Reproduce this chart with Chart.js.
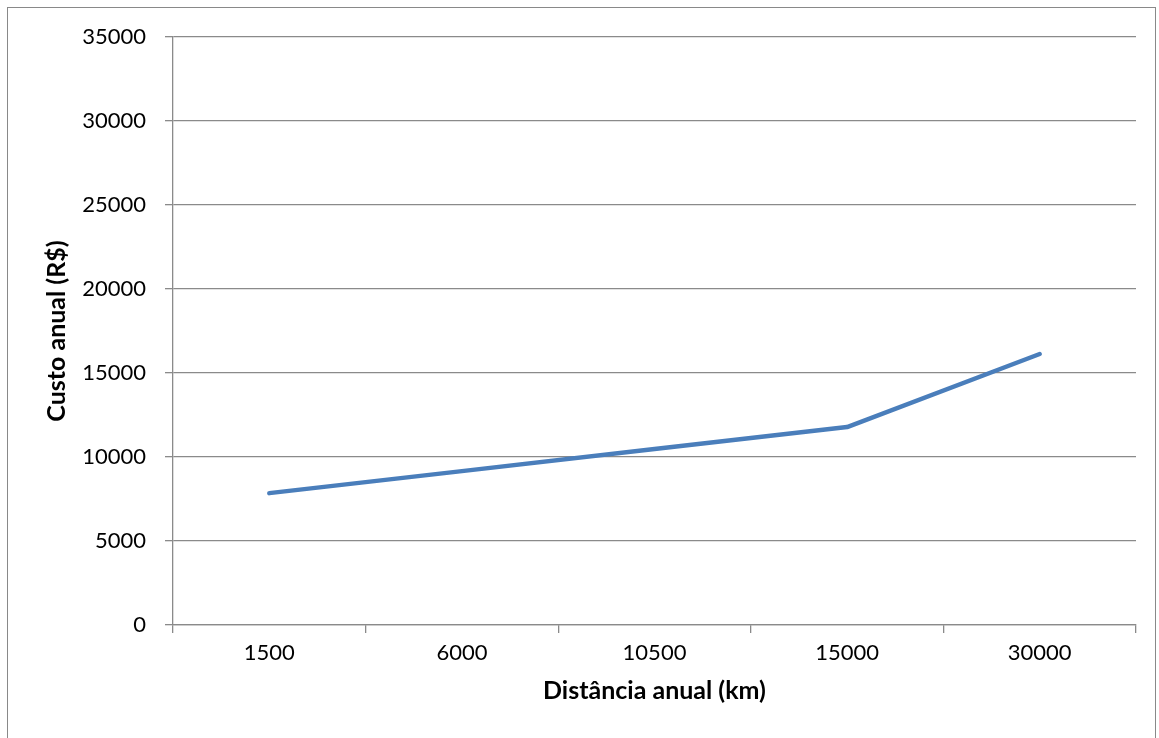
<!DOCTYPE html>
<html>
<head>
<meta charset="utf-8">
<script src="https://cdn.jsdelivr.net/npm/chart.js@4"></script>
<style>
  html, body { margin: 0; padding: 0; background: #fff; overflow: hidden; }
  #frame {
    position: absolute; left: 7px; top: 7px; width: 1149px; height: 800px;
    border: 1.5px solid #898989; box-sizing: border-box;
  }
  #wrap { position: absolute; left: 0; top: 0; width: 1159px; height: 738px; }
</style>
</head>
<body>
<div id="frame"></div>
<div id="wrap"><canvas id="chart" width="1159" height="738"></canvas></div>
<script>
const distances = ["1500", "6000", "10500", "15000", "30000"];
const annualCost = [7850, 9160, 10470, 11780, 16130];

const xTitle = "Distância anual (km)";
const yTitle = "Custo anual (R$)";

const lineColor = "#4a7ebb";
const gridColor = "#8a8a8a";
const fontFamily = "Lato, 'Open Sans', sans-serif";

// plot area edges
const plotLeft = 173;
const plotRight = 1136;
const plotTop = 37;
const plotBottom = 625;

const pad = { left: 38, right: 1159 - plotRight, top: plotTop, bottom: 28 };

new Chart(document.getElementById("chart"), {
  type: "line",
  data: {
    labels: distances,
    datasets: [{
      label: yTitle,
      data: annualCost,
      borderColor: lineColor,
      backgroundColor: lineColor,
      borderWidth: 4.5,
      borderCapStyle: "round",
      borderJoinStyle: "round",
      pointRadius: 0,
      tension: 0,
      fill: false,
    }],
  },
  options: {
    responsive: false,
    animation: false,
    layout: { padding: pad },
    plugins: { legend: { display: false }, tooltip: { enabled: false } },
    scales: {
      x: {
        type: "category",
        offset: true,
        grid: {
          offset: true,
          drawOnChartArea: false,
          drawTicks: true,
          tickLength: 8,
          color: gridColor,
          lineWidth: 1.3,
        },
        border: { display: true, color: gridColor, width: 1.3 },
        ticks: { color: "#000", font: { family: fontFamily, size: 22 }, padding: 7, maxRotation: 0 },
        title: {
          display: true,
          text: xTitle,
          color: "#000",
          font: { family: fontFamily, size: 25, weight: "bold" },
          padding: { top: 4, bottom: 4 },
        },
        afterFit(scale) { scale.height = 738 - pad.bottom - plotBottom; },
      },
      y: {
        min: 0,
        max: 35000,
        grid: {
          color: gridColor,
          lineWidth: 1.3,
          drawTicks: true,
          tickLength: 8,
        },
        border: { display: true, color: gridColor, width: 1.3 },
        ticks: {
          stepSize: 5000,
          color: "#000",
          font: { family: fontFamily, size: 22 },
          padding: 19,
          callback: (v) => String(v),
        },
        title: {
          display: true,
          text: yTitle,
          color: "#000",
          font: { family: fontFamily, size: 25, weight: "bold" },
          padding: { top: 4, bottom: 4 },
        },
        afterFit(scale) { scale.width = plotLeft - pad.left; },
      },
    },
  },
});
</script>
</body>
</html>
